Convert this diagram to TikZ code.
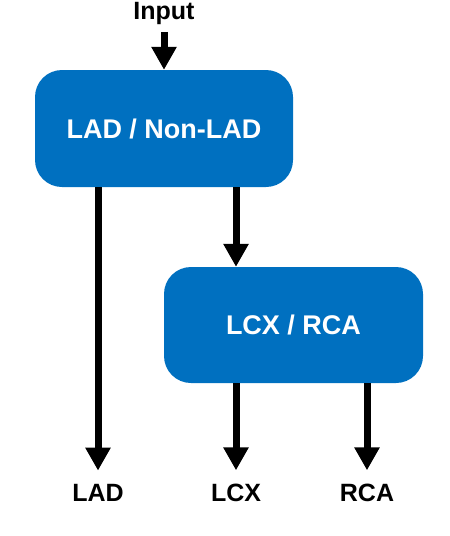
\documentclass[tikz,border=0pt]{standalone}
\usepackage{fontspec}
\setmainfont{Liberation Sans}
\usetikzlibrary{arrows.meta}
\definecolor{stageblue}{HTML}{0070C0}

\begin{document}
\begin{tikzpicture}[x=1pt,y=-1pt]
        \tikzstyle{every node}=[font=\bfseries\fontsize{25}{27}\selectfont, inner sep=0pt]
        \tikzstyle{stage}=[draw=none, fill=stageblue, rounded corners=27pt, text=white, font=\bfseries\fontsize{27}{30}\selectfont]
        \tikzstyle{flow}=[line width=7pt, -{Triangle[width=24pt,length=23pt]}]
        \useasboundingbox (0,0) rectangle (450,536);

        \node[anchor=base] (input) at (164,19.5) {Input};
        \node[stage, minimum width=258pt, minimum height=117pt] (lad) at (164,128.5) {LAD / Non-LAD};
        \node[stage, minimum width=259pt, minimum height=116pt] (lcx) at (293.5,325) {LCX / RCA};

        \node[anchor=base] (ladlab) at (98,501) {LAD};
        \node[anchor=base] (lcxlab) at (236,501) {LCX};
        \node[anchor=base] (rcalab) at (367,501) {RCA};

        \draw[flow, shorten <=7pt] (input.south) -- (lad.north);
        \draw[flow, shorten >=13pt] (lad.south -| ladlab) -- (ladlab.north);
        \draw[flow] (lad.south -| lcxlab) -- (lcx.north -| lcxlab);
        \draw[flow, shorten >=13pt] (lcx.south -| lcxlab) -- (lcxlab.north);
        \draw[flow, shorten >=13pt] (lcx.south -| rcalab) -- (rcalab.north);
    \end{tikzpicture}
\end{document}
